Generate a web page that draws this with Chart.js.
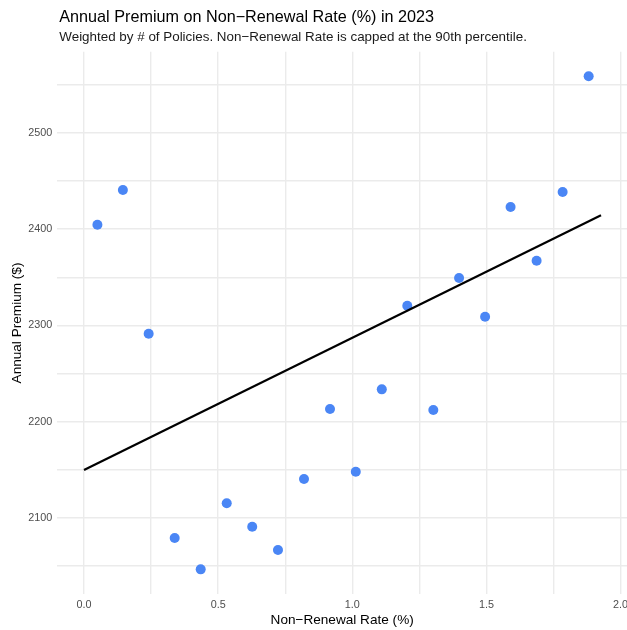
<!DOCTYPE html>
<html>
<head>
<meta charset="utf-8">
<script src="https://cdn.jsdelivr.net/npm/chart.js@4.4.1/dist/chart.umd.min.js"></script>
<style>
  html, body { margin: 0; padding: 0; background: #fff; }
  #wrap { width: 627px; height: 630px; }
</style>
</head>
<body>
<div id="wrap"><canvas id="chart"></canvas></div>
<script>
// --- data ---
const rateX = [0.050, 0.145, 0.241, 0.338, 0.435, 0.532, 0.627, 0.723, 0.820, 0.917,
               1.013, 1.110, 1.205, 1.302, 1.398, 1.495, 1.590, 1.687, 1.784, 1.881];
const premiumY = [2404.6, 2440.6, 2291.4, 2079.2, 2046.7, 2115.3, 2091.0, 2066.8, 2140.5, 2213.2,
                  2148.1, 2233.6, 2320.5, 2212.1, 2349.2, 2309.0, 2423.0, 2367.2, 2438.5, 2558.7];
// fitted line end points
const fitX = [0, 1.927];
const fitY = [2149.8, 2414.3];

const xTicks = [0, 0.25, 0.5, 0.75, 1.0, 1.25, 1.5, 1.75, 2.0];
const yTicks = [2050, 2100, 2150, 2200, 2250, 2300, 2350, 2400, 2450, 2500, 2550];

const titleText = 'Annual Premium on Non\u2212Renewal Rate (%) in 2023';
const subtitleText = 'Weighted by # of Policies. Non\u2212Renewal Rate is capped at the 90th percentile.';

const FONT = "'Liberation Sans', Arial, sans-serif";
const gridColor = '#ebebeb';

// title + subtitle drawn flush with the panel, like ggplot
const headerPlugin = {
    id: 'header',
    afterDraw(chart) {
        const c = chart.ctx;
        const left = chart.chartArea.left + 2;
        c.save();
        c.textAlign = 'left';
        c.textBaseline = 'alphabetic';
        c.fillStyle = '#000';
        c.font = '16.2px ' + FONT;
        c.fillText(titleText, left, 22);
        c.fillStyle = '#1a1a1a';
        c.font = '13.4px ' + FONT;
        c.fillText(subtitleText, left, 41);
        c.restore();
    }
};

const points = rateX.map((x, i) => ({ x: x, y: premiumY[i] }));
const fitLine = fitX.map((x, i) => ({ x: x, y: fitY[i] }));

const ctx = document.getElementById('chart').getContext('2d');
new Chart(ctx, {
    type: 'scatter',
    data: {
        datasets: [
            {
                type: 'line',
                data: fitLine,
                borderColor: '#000',
                borderWidth: 2.2,
                pointRadius: 0,
                fill: false,
                order: 0
            },
            {
                data: points,
                backgroundColor: '#4a86f5',
                borderWidth: 0,
                pointRadius: 5,
                order: 1
            }
        ]
    },
    options: {
        responsive: true,
        maintainAspectRatio: false,
        animation: false,
        layout: { autoPadding: false, padding: { top: 51.7, left: 0, right: 0, bottom: 0 } },
        plugins: {
            legend: { display: false },
            tooltip: { enabled: false }
        },
        scales: {
            x: {
                type: 'linear',
                min: -0.0995,
                max: 2.0239,
                afterBuildTicks: s => { s.ticks = xTicks.map(v => ({ value: v })); },
                afterFit: s => {
                    s.height = 35.7;
                    s.paddingLeft = 0;
                    s.paddingRight = 0;
                },
                grid: { color: gridColor, lineWidth: 1.4, drawTicks: false },
                border: { display: false },
                ticks: {
                    padding: 4,
                    maxRotation: 0,
                    autoSkip: false,
                    color: '#4d4d4d',
                    font: { family: FONT, size: 10.8 },
                    callback: v => (Math.abs(v * 2 - Math.round(v * 2)) < 1e-9 ? v.toFixed(1) : '')
                },
                title: {
                    display: true,
                    text: 'Non\u2212Renewal Rate (%)',
                    color: '#000',
                    font: { family: FONT, size: 13.6 },
                    padding: { top: 0, bottom: 2 }
                }
            },
            y: {
                type: 'linear',
                min: 2020.8,
                max: 2584.2,
                afterBuildTicks: s => { s.ticks = yTicks.map(v => ({ value: v })); },
                afterFit: s => {
                    s.width = 57.3;
                    s.paddingTop = 0;
                    s.paddingBottom = 0;
                },
                grid: { color: gridColor, lineWidth: 1.4, drawTicks: false },
                border: { display: false },
                ticks: {
                    padding: 5,
                    autoSkip: false,
                    color: '#4d4d4d',
                    font: { family: FONT, size: 10.8 },
                    callback: v => (v % 100 === 0 ? String(v) : '')
                },
                title: {
                    display: true,
                    text: 'Annual Premium ($)',
                    color: '#000',
                    font: { family: FONT, size: 13.6 },
                    padding: { top: 9, bottom: 0 }
                }
            }
        }
    },
    plugins: [headerPlugin]
});
</script>
</body>
</html>
